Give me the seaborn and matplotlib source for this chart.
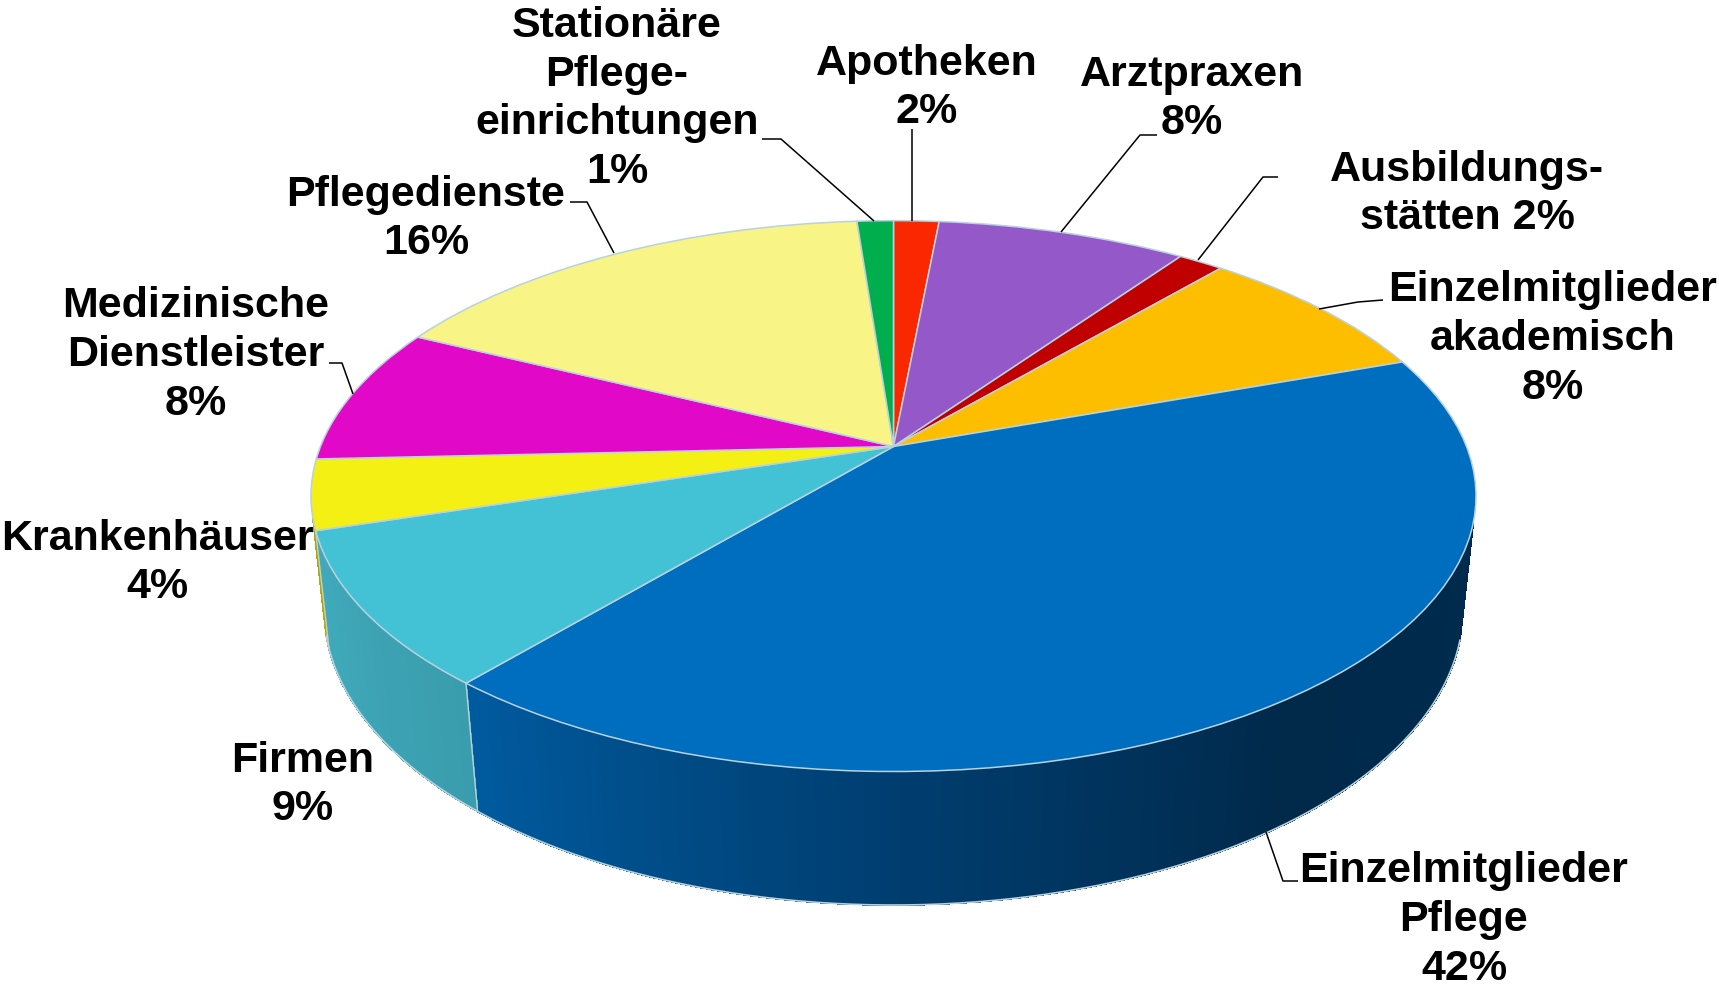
"""3D style pie of member groups, drawn with ax.pie through a perspective transform."""

import matplotlib

matplotlib.use("Agg")

import matplotlib.pyplot as plt
import numpy as np
import seaborn as sns
from matplotlib.transforms import Transform

GROUPS = [
    "Apotheken", "Arztpraxen", "Ausbildungsstätten", "Einzelmitglieder akademisch",
    "Einzelmitglieder Pflege", "Firmen", "Krankenhäuser", "Medizinische Dienstleister",
    "Pflegedienste", "Stationäre Pflegeeinrichtungen",
]
SHARES = [1.5, 8.25, 1.5, 8.3, 41.6, 9.05, 4.1, 8.05, 16.5, 1.2]
COLORS = [
    "#FA2800", "#9558C8", "#C00000", "#FDBE00", "#006EBE",
    "#44C2D5", "#F5F014", "#E208C8", "#F8F486", "#00AE4E",
]
LABELS = [
    "Apotheken\n2%", "Arztpraxen\n8%", "Ausbildungs-\nstätten 2%",
    "Einzelmitglieder\nakademisch\n8%", "Einzelmitglieder\nPflege\n42%", "Firmen\n9%",
    "Krankenhäuser\n4%", "Medizinische\nDienstleister\n8%", "Pflegedienste\n16%",
    "Stationäre\nPflege-\neinrichtungen\n1%",
]
LABEL_POS = [
    (927, 88), (1192, 99), (1467, 194), (1553, 339), (1464, 920),
    (303, 785), (157, 563), (196, 355), (426, 219), (617, 99),
]
LEADERS = [
    [(912, 130), (912, 222)],
    [(1157, 136), (1140, 136), (1061, 233)],
    [(1278, 178), (1263, 178), (1198, 261)],
    [(1383, 301), (1358, 303), (1319, 310)],
    [(1298, 882), (1283, 882), (1266, 833)],
    [(329, 364), (342, 364), (353, 395)],
    [(570, 203), (587, 203), (614, 254)],
    [(762, 140), (781, 140), (874, 222)],
]

WALL_FROM, WALL_TO = -165.0, -15.8
EDGE = "#B9D2DE"


class Perspective(Transform):
    """Unit circle to tilted disc in picture pixels."""

    input_dims = 2
    output_dims = 2

    def __init__(self, cx, cy, a, b, k):
        super().__init__()
        self.cx, self.cy, self.a, self.b, self.k = cx, cy, a, b, k

    def transform_non_affine(self, values):
        values = np.asarray(values, dtype=float)
        s = 1 + self.k * values[:, 1]
        return np.column_stack([
            self.cx + self.a * values[:, 0] / s,
            self.cy - self.b * values[:, 1] / s,
        ])


def wall_colors(name, n):
    if name == "Einzelmitglieder Pflege":
        return sns.blend_palette(["#005B9F", "#003F72", "#00294A", "#002B4D"], n)
    if name == "Firmen":
        return sns.blend_palette(["#40ABBD", "#3A9DAD"], n)
    return sns.blend_palette(["#B5B000", "#A8A400"], n)


def draw_wall(ax, wedge, name, top, bottom):
    lo = max(wedge.theta1, WALL_FROM)
    hi = min(wedge.theta2, WALL_TO)
    if hi <= lo:
        return
    n = max(int((hi - lo) * 2), 4)
    phi = np.radians(np.linspace(lo, hi, n + 1))
    unit = np.column_stack([np.cos(phi), np.sin(phi)])
    up = top.transform(unit)
    down = bottom.transform(unit)
    cols = wall_colors(name, n)
    for i in range(n):
        xs = [up[i, 0], up[i + 1, 0], down[i + 1, 0], down[i, 0]]
        ys = [up[i, 1], up[i + 1, 1], down[i + 1, 1], down[i, 1]]
        ax.fill(xs, ys, color=cols[i], lw=0.6, antialiased=False, zorder=1)
    ax.plot(down[:, 0], down[:, 1], color=EDGE, lw=1.2, zorder=2)
    if lo > WALL_FROM:
        ax.plot([up[0, 0], down[0, 0]], [up[0, 1], down[0, 1]], color=EDGE, lw=1.0, zorder=2)


def main():
    sns.set_theme(style="white")
    plt.rcParams["font.family"] = ["Liberation Sans", "DejaVu Sans"]

    fig = plt.figure(figsize=(17.19, 9.87), dpi=100)
    ax = fig.add_axes([0, 0, 1, 1])

    wedges, _ = ax.pie(
        SHARES, colors=COLORS, startangle=90, counterclock=False,
        wedgeprops={"edgecolor": EDGE, "linewidth": 1.1, "zorder": 3},
    )
    ax.set_aspect("auto")
    ax.set_xlim(0, 1719)
    ax.set_ylim(987, 0)
    ax.axis("off")

    top = Perspective(893.5, 447.5, 573, 266.5, 0.18)
    bottom = Perspective(893.5, 559, 561, 287, 0.173)
    for wedge, name in zip(wedges, GROUPS):
        wedge.set_transform(top + ax.transData)
        draw_wall(ax, wedge, name, top, bottom)

    for pts in LEADERS:
        xs, ys = zip(*pts)
        ax.plot(xs, ys, color="black", lw=1.1, zorder=4, solid_capstyle="butt")

    for text, (x, y) in zip(LABELS, LABEL_POS):
        ax.text(x, y, text, ha="center", va="center", fontsize=31, fontweight="bold",
                color="black", linespacing=1.29, zorder=5)

    fig.savefig("out.png", dpi=100)


if __name__ == "__main__":
    main()
